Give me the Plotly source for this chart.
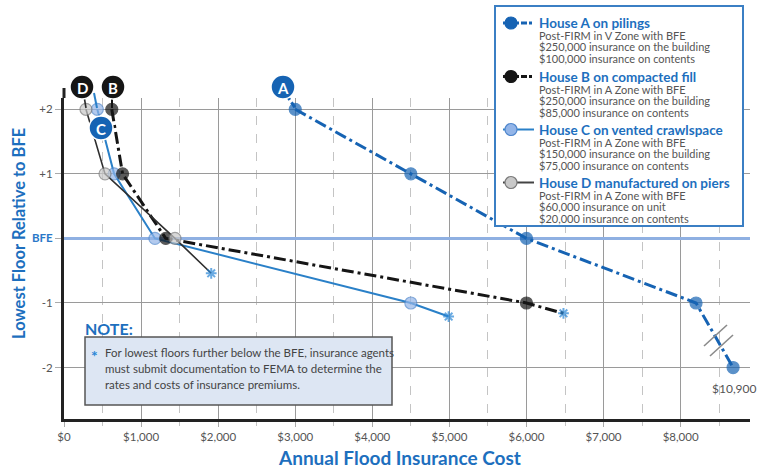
import plotly.graph_objects as go

# ---------------- data ----------------
floors = [2, 1, 0, -1, -2]
floor_labels = ["+2", "+1", "<b><span style='color:#2a78c8'>BFE</span></b>", "-1", "-2"]

house_a_cost = [3000, 4500, 6000, 8200, 10900]
house_b_cost = [620, 760, 1320, 6000]
house_c_cost = [432, 650, 1180, 4500]
house_d_cost = [285, 532, 1440]

# asterisk end-points (floors further below BFE)
house_b_star = (6480, -1.16)
house_c_star = (4990, -1.21)
house_d_star = (1910, -0.54)

x_ticks = [0, 1000, 2000, 3000, 4000, 5000, 6000, 7000, 8000]

legend_entries = [
    ("House A on pilings", ["Post-FIRM in V Zone with BFE", "$250,000 insurance on the building", "$100,000 insurance on contents"]),
    ("House B on compacted fill", ["Post-FIRM in A Zone with BFE", "$250,000 insurance on the building", "$85,000 insurance on contents"]),
    ("House C on vented crawlspace", ["Post-FIRM in A Zone with BFE", "$150,000 insurance on the building", "$75,000 insurance on contents"]),
    ("House D manufactured on piers", ["Post-FIRM in A Zone with BFE", "$60,000 insurance on unit", "$20,000 insurance on contents"]),
]

note_lines = [
    "For lowest floors further below the BFE, insurance agents",
    "must submit documentation to FEMA to determine the",
    "rates and costs of insurance premiums.",
]

# broken axis beyond $8,200
BREAK_AT = 8200
BREAK_SCALE = 0.178


def compress(v):
    return v if v <= BREAK_AT else BREAK_AT + (v - BREAK_AT) * BREAK_SCALE


# ---------------- styles ----------------
BLUE_A = "#1663b3"
BLUE_C = "#2a80c8"
BLUE_TXT = "#1d6fbe"
C_FILL = "#93b5e8"
D_FILL = "#c8c8c8"
STAR = "#2a86d6"
FONT = "Lato"
DASHDOT = "12px,4px,3px,4px"

# plot area in pixels
L, R, T, B = 64, 750, 98, 419
W, H = 775, 470


def px(x):
    return (x - L) / (R - L)


def py(y):
    return (B - y) / (B - T)


def ann(x, y, text, size, color, xa="center", ya="middle", angle=0):
    return dict(xref="paper", yref="paper", x=px(x), y=py(y), text=text, showarrow=False,
                xanchor=xa, yanchor=ya, textangle=angle,
                font=dict(family=FONT, size=size, color=color))


fig = go.Figure()

star_sym = "asterisk-open"


def house_trace(costs, star, line, fill, outline, size=12):
    xs = [compress(c) for c in costs]
    ys = floors[: len(costs)]
    syms = ["circle"] * len(costs)
    cols = [fill] * len(costs)
    lcols = [outline] * len(costs)
    sizes = [size] * len(costs)
    lw = [1.2] * len(costs)
    if star is not None:
        xs.append(star[0])
        ys.append(star[1])
        syms.append(star_sym)
        cols.append(STAR)
        lcols.append(STAR)
        sizes.append(9)
        lw.append(2)
    return go.Scatter(
        x=xs, y=ys, mode="lines+markers", line=line,
        marker=dict(symbol=syms, color=cols, size=sizes,
                    line=dict(color=lcols, width=lw)),
        cliponaxis=False, showlegend=False, hoverinfo="skip",
    )


fig.add_trace(house_trace(house_a_cost, None, dict(color=BLUE_A, width=3, dash=DASHDOT), BLUE_A, BLUE_A, 12))
fig.add_trace(house_trace(house_c_cost, house_c_star, dict(color=BLUE_C, width=2), C_FILL, "#4f86cc", 12))
fig.add_trace(house_trace(house_b_cost, house_b_star, dict(color="#151515", width=3, dash=DASHDOT), "#151515", "#151515", 12))
fig.add_trace(house_trace(house_d_cost, house_d_star, dict(color="#2e2e2e", width=1.6), D_FILL, "#7a7a7a", 12))

shapes = []
annotations = []

# extension of y axis line above plot
shapes.append(dict(type="line", xref="paper", yref="paper", x0=0, x1=0, y0=1, y1=py(88),
                   line=dict(color="#222", width=3)))

# break marks on House A line
for (x0, y0, x1, y1) in [(704, 346, 727, 325), (710, 356, 733, 335)]:
    shapes.append(dict(type="line", xref="paper", yref="paper", x0=px(x0), y0=py(y0), x1=px(x1), y1=py(y1),
                       line=dict(color="#8a8a8a", width=1.6), layer="above"))
annotations.append(ann(734, 388, "$10,900", 12, "#555"))

# connector stubs from labels to first points
shapes.append(dict(type="line", xref="paper", yref="paper", x0=px(283), y0=py(90), x1=px(296), y1=py(109),
                   line=dict(color=BLUE_A, width=3, dash="6px,3px,3px,3px")))
shapes.append(dict(type="line", xref="paper", yref="paper", x0=px(112), y0=py(90), x1=px(112), y1=py(108),
                   line=dict(color="#151515", width=2)))
shapes.append(dict(type="line", xref="paper", yref="paper", x0=px(83), y0=py(90), x1=px(86), y1=py(108),
                   line=dict(color="#2e2e2e", width=1.6)))
shapes.append(dict(type="line", xref="paper", yref="paper", x0=px(94), y0=py(93), x1=px(97), y1=py(108),
                   line=dict(color=BLUE_C, width=2)))

# letter badges
badges = [("A", 283, 87, BLUE_A), ("B", 113, 87, "#151515"), ("D", 82, 87, "#151515"), ("C", 101, 128, BLUE_A)]
for letter, bx, by, col in badges:
    r = 12
    shapes.append(dict(type="circle", xref="paper", yref="paper", x0=px(bx - r), x1=px(bx + r),
                       y0=py(by + r), y1=py(by - r), fillcolor=col, line=dict(color="white", width=1.5),
                       layer="above"))
    annotations.append(ann(bx, by + 0.5, f"<b>{letter}</b>", 15, "white"))

# legend box
shapes.append(dict(type="rect", xref="paper", yref="paper", x0=px(495), x1=px(743), y0=py(226), y1=py(6),
                   fillcolor="white", line=dict(color="#3b7fc4", width=2), layer="above"))
title_y = [22, 75.5, 128.5, 181.5]
leg_styles = [
    (BLUE_A, BLUE_A, BLUE_A, "dashdot"),
    ("#151515", "#151515", "#151515", "dashdot"),
    (BLUE_C, C_FILL, "#4f86cc", "solid"),
    ("#444", D_FILL, "#7a7a7a", "solid"),
]
for i, (title, lines) in enumerate(legend_entries):
    ty = title_y[i]
    lcol, mfill, mline, dash = leg_styles[i]
    shapes.append(dict(type="line", xref="paper", yref="paper", x0=px(503), x1=px(534), y0=py(ty + 1), y1=py(ty + 1),
                       line=dict(color=lcol, width=3 if dash == "dashdot" else 2,
                                 dash="3px,2px,6px,2px" if dash == "dashdot" else "solid"), layer="above"))
    shapes.append(dict(type="circle", xref="paper", yref="paper", x0=px(505), x1=px(517), y0=py(ty + 7),
                       y1=py(ty - 5), fillcolor=mfill, line=dict(color=mline, width=1.2), layer="above"))
    txt = (f"<span style='font-size:13.5px;color:{BLUE_TXT}'><b>{title}</b></span><br>"
           + "<br>".join(f"<span style='font-size:11px'>{ln}</span>" for ln in lines))
    annotations.append(dict(xref="paper", yref="paper", x=px(538), y=py(ty - 7.5), text=txt,
                            showarrow=False, xanchor="left", yanchor="top", align="left", borderpad=0,
                            font=dict(family=FONT, size=8.9, color="#555")))

# note
annotations.append(ann(83, 328, "<b>NOTE:</b>", 16, BLUE_TXT, xa="left"))
shapes.append(dict(type="rect", xref="paper", yref="paper", x0=px(85), x1=px(392), y0=py(405), y1=py(337),
                   fillcolor="#dde6f3", line=dict(color="#555", width=1.5), layer="above"))
annotations.append(ann(94, 355, "<b>*</b>", 16, STAR))
note_txt = "<br>".join(f"<span style='font-size:11.5px'>{ln}</span>" for ln in note_lines)
annotations.append(dict(xref="paper", yref="paper", x=px(103), y=py(368), text=note_txt, showarrow=False,
                        xanchor="left", yanchor="middle", align="left",
                        font=dict(family=FONT, size=12.3, color="#444")))

# axis titles
annotations.append(ann(399, 457, "<b>Annual Flood Insurance Cost</b>", 19, BLUE_TXT))
annotations.append(ann(19, 234, "<b>Lowest Floor Relative to BFE</b>", 16.5, BLUE_TXT, angle=-90))

fig.update_layout(
    width=W, height=H,
    margin=dict(l=L, r=W - R, t=T, b=H - B),
    paper_bgcolor="white", plot_bgcolor="white",
    font=dict(family=FONT, color="#555", size=11),
    shapes=shapes, annotations=annotations, showlegend=False,
    xaxis=dict(
        range=[0, 8900], tickvals=x_ticks, tickformat="$,.0f",
        showgrid=True, gridcolor="#9a9a9a", gridwidth=1.2,
        minor=dict(dtick=500, showgrid=True, gridcolor="#c4c4c4", griddash="dash", gridwidth=1,
                   ticks="outside", ticklen=4, tickcolor="#c4c4c4"),
        ticks="outside", ticklen=5, tickcolor="#aaa",
        showline=True, linecolor="#222", linewidth=3, zeroline=False,
        tickfont=dict(family=FONT, size=11.5, color="#555"),
    ),
    yaxis=dict(
        range=[-2.797, 2.175], tickvals=floors, ticktext=floor_labels,
        showgrid=True, gridcolor="#9a9a9a", gridwidth=1.2,
        zeroline=True, zerolinecolor="#8fb0e2", zerolinewidth=2.5,
        ticks="outside", ticklen=6, tickcolor="#aaa",
        showline=True, linecolor="#222", linewidth=3,
        tickfont=dict(family=FONT, size=11.5, color="#555"),
    ),
)

fig.write_html("out.html")
